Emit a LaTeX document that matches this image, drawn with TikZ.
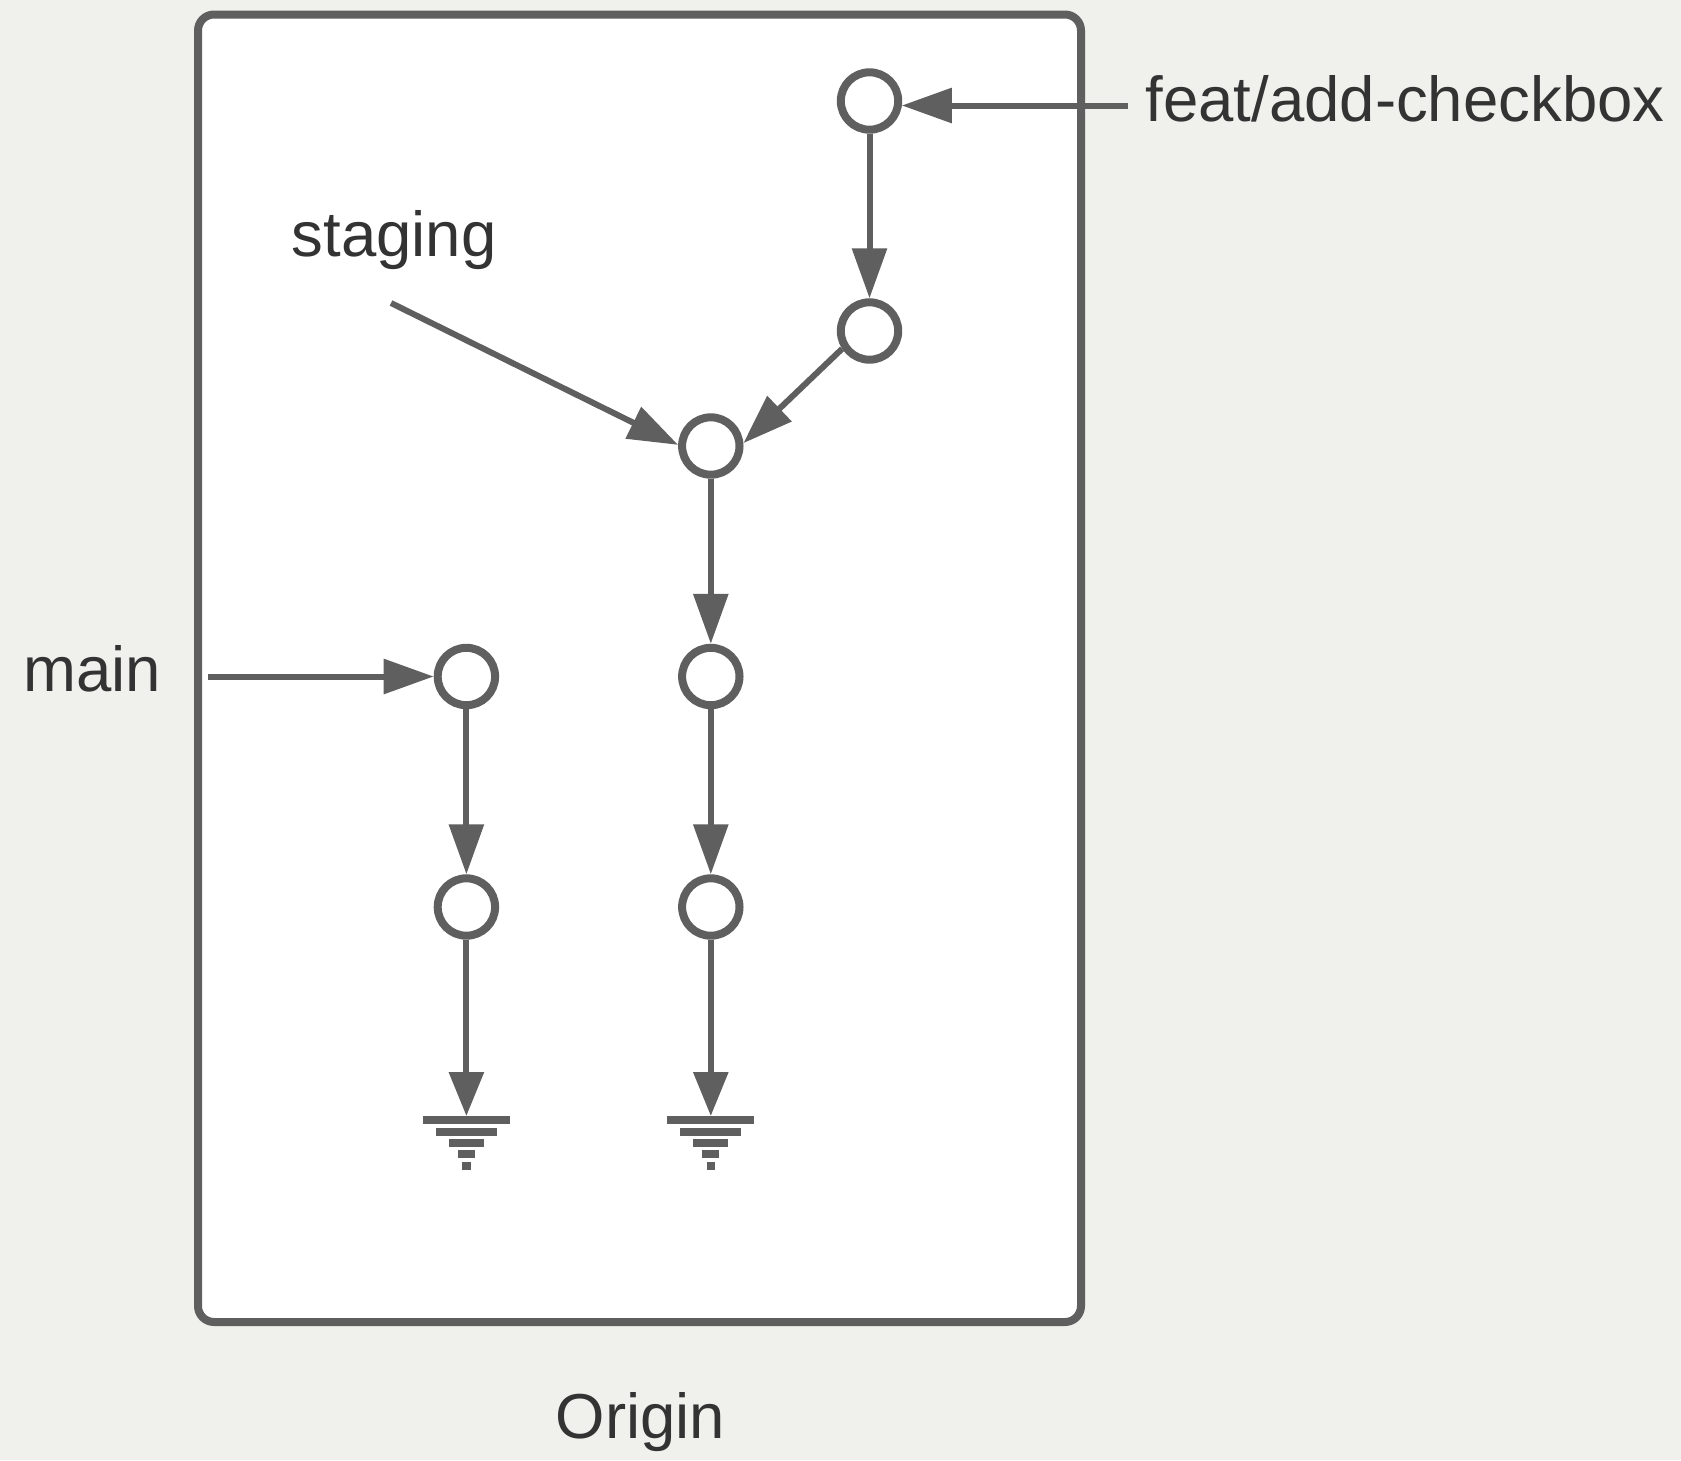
\documentclass[tikz,border=0pt]{standalone}
\usepackage{fontspec}
\setmainfont{Liberation Sans}
\usetikzlibrary{arrows.meta}
\definecolor{bgc}{HTML}{F0F0EC}
\definecolor{linec}{HTML}{5F5F5F}
\definecolor{txtc}{HTML}{333333}
\tikzset{
  commit/.style={circle, draw=linec, line width=8pt, fill=white, minimum size=57.4pt, inner sep=0pt, outer sep=4pt},
  arr/.style={draw=linec, line width=6pt, -{Triangle[length=50pt,width=34pt]}, shorten >=0pt},
  garr/.style={draw=linec, line width=6pt, -{Triangle[length=44pt,width=34pt]}},
  lbl/.style={anchor=base, inner sep=0pt, text=txtc, font=\fontsize{63.5pt}{76pt}\selectfont},
  groundsym/.pic={
    \fill[linec] (-43.5,0) rectangle (43.5,8);
    \fill[linec] (-30.5,11.5) rectangle (30.5,19.5);
    \fill[linec] (-17.5,23) rectangle (17.5,31);
    \fill[linec] (-8.5,34) rectangle (8.5,42);
    \fill[linec] (-4.25,46) rectangle (4.25,54);
  }
}
\begin{document}
\begin{tikzpicture}[x=1pt,y=-1pt]
\useasboundingbox (0,0) rectangle (1681,1460);
\fill[bgc] (0,0) rectangle (1681,1460);
% origin box
\draw[linec, line width=8pt, rounded corners=16pt, fill=white] (198,14.5) rectangle (1081,1322);
% commits
\node[commit] (A) at (869.5,101) {};
\node[commit] (B) at (869.5,331) {};
\node[commit] (C) at (710.8,446) {};
\node[commit] (D) at (710.8,676.5) {};
\node[commit] (E) at (710.8,907) {};
\node[commit] (F) at (466.4,676.5) {};
\node[commit] (G) at (466.4,907) {};
% ground ends
\coordinate (gL) at (466.4,1116);
\coordinate (gR) at (710.8,1116);
\pic at (gL) {groundsym};
\pic at (gR) {groundsym};
% labels
\node[lbl] (featlbl) at (1405,121) {feat/add-checkbox};
\node[lbl] (staginglbl) at (394,256.7) {staging};
\node[lbl] (mainlbl) at (92.5,691.6) {main};
\node[lbl] (originlbl) at (640.5,1438.5) {Origin};
% free ends of branch pointers
\coordinate (featstart) at (1128,105.5);
\coordinate (stagingstart) at (391,303);
\coordinate (mainstart) at (208,676.5);
% connectors
\draw[arr] (featstart) -- (A.351 |- featstart);
\draw[arr] (stagingstart) -- (C.178);
\draw[arr] (mainstart) -- (F.west);
\draw[arr] (A) -- (B);
\draw[arr] (B.213) -- (C.5);
\draw[arr] (C) -- (D);
\draw[arr] (D) -- (E);
\draw[garr] (E) -- (gR);
\draw[arr] (F) -- (G);
\draw[garr] (G) -- (gL);
\end{tikzpicture}
\end{document}
